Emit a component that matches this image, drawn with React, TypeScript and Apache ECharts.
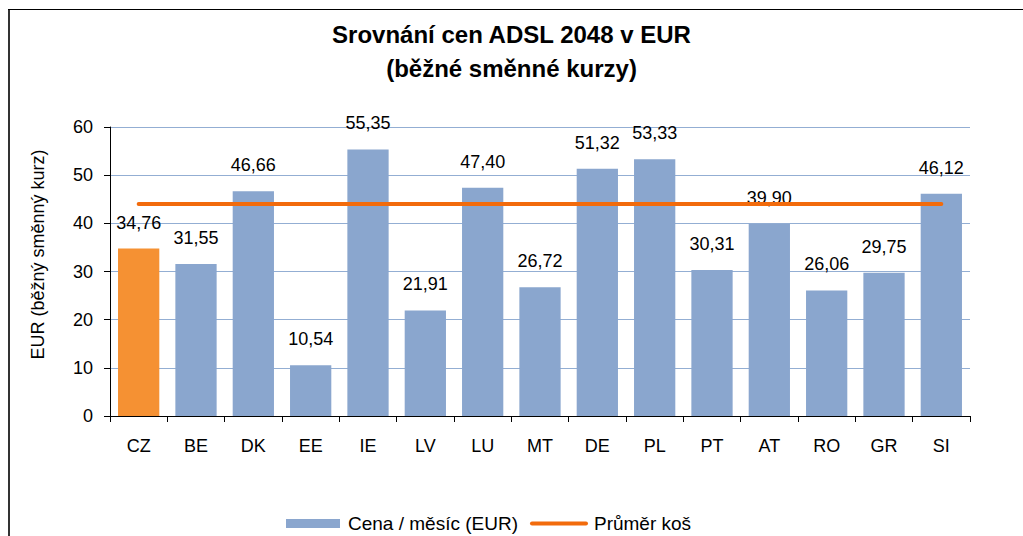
import React, { useEffect, useRef } from "react";
import * as echarts from "echarts";

const categories = ["CZ", "BE", "DK", "EE", "IE", "LV", "LU", "MT", "DE", "PL", "PT", "AT", "RO", "GR", "SI"];
const prices = [34.76, 31.55, 46.66, 10.54, 55.35, 21.91, 47.4, 26.72, 51.32, 53.33, 30.31, 39.9, 26.06, 29.75, 46.12];
const averageBasket = [44.0, 44.0, 44.0, 44.0, 44.0, 44.0, 44.0, 44.0, 44.0, 44.0, 44.0, 44.0, 44.0, 44.0, 44.0];
const highlighted = ["CZ"];
const yTicks = { min: 0, max: 60, interval: 10 };

const FONT = "'Liberation Sans', Arial, sans-serif";
const BLUE = "#8AA6CE";
const ORANGE_BAR = "#F59133";
const ORANGE_LINE = "#F26B0C";

export default function App() {
  const ref = useRef<HTMLDivElement>(null);
  useEffect(() => {
    document.body.style.margin = "0";
    if (!ref.current) return;
    const chart = echarts.init(ref.current, undefined, { renderer: "svg" });
    const barData = prices.map((v, i) => ({
      value: v,
      itemStyle: { color: highlighted.includes(categories[i]) ? ORANGE_BAR : BLUE },
    }));
    chart.setOption({
      animation: false,
      backgroundColor: "#fff",
      textStyle: { fontFamily: FONT },
      graphic: [
        { type: "line", shape: { x1: 9, y1: 9, x2: 9, y2: 540 }, style: { stroke: "#333", lineWidth: 2 } },
        { type: "line", shape: { x1: 8, y1: 9.5, x2: 1030, y2: 9.5 }, style: { stroke: "#000", lineWidth: 1 } },
      ],
      title: {
        text: "Srovnání cen ADSL 2048 v EUR\n(běžné směnné kurzy)",
        left: "center",
        top: 12,
        textStyle: { fontFamily: FONT, fontSize: 24, fontWeight: "bold", color: "#000", lineHeight: 34 },
      },
      grid: { left: 110, right: 53, top: 127, height: 289, containLabel: false },
      legend: {
        top: 509,
        left: 281,
        itemWidth: 54,
        itemHeight: 9,
        itemGap: 12,
        textStyle: { fontFamily: FONT, fontSize: 19, color: "#000", padding: [0, 0, 0, 3] },
        data: [
          { name: "Cena / měsíc (EUR)", icon: "rect" },
          {
            name: "Průměr koš",
            lineStyle: { width: 4, color: ORANGE_LINE },
            itemStyle: { color: "rgba(0,0,0,0)", borderColor: "rgba(0,0,0,0)", borderWidth: 0, opacity: 0 },
          },
        ],
      },
      xAxis: {
        type: "category",
        data: categories,
        axisLine: { lineStyle: { color: "#000", width: 1 } },
        axisTick: { show: true, alignWithLabel: false, length: 6, lineStyle: { color: "#000" } },
        axisLabel: { fontFamily: FONT, fontSize: 18, color: "#000", margin: 21 },
      },
      yAxis: {
        type: "value",
        min: yTicks.min,
        max: yTicks.max,
        interval: yTicks.interval,
        name: "EUR (běžný směnný kurz)",
        nameLocation: "middle",
        nameGap: 63,
        nameTextStyle: { fontFamily: FONT, fontSize: 18, color: "#000", padding: [0, 0, 0, 34] },
        axisLine: { show: true, lineStyle: { color: "#000", width: 1 } },
        axisTick: { show: true, length: 6, lineStyle: { color: "#000" } },
        axisLabel: { fontFamily: FONT, fontSize: 18, color: "#000", margin: 17 },
        splitLine: { show: true, lineStyle: { color: "#93AED3", width: 1 } },
      },
      series: [
        {
          name: "Cena / měsíc (EUR)",
          type: "bar",
          data: barData,
          itemStyle: { color: BLUE },
          barCategoryGap: "28%",
          label: {
            show: true,
            position: "top",
            distance: 17,
            fontFamily: FONT,
            fontSize: 18,
            color: "#000",
            formatter: (p: any) => Number(p.value).toFixed(2).replace(".", ","),
          },
          z: 2,
        },
        {
          name: "Průměr koš",
          type: "line",
          data: averageBasket,
          symbol: "none",
          showSymbol: false,
          lineStyle: { color: ORANGE_LINE, width: 4, cap: "round" },
          itemStyle: { color: ORANGE_LINE },
          z: 3,
        },
      ],
    });
    return () => chart.dispose();
  }, []);
  return <div ref={ref} style={{ width: 1023, height: 536 }} />;
}
